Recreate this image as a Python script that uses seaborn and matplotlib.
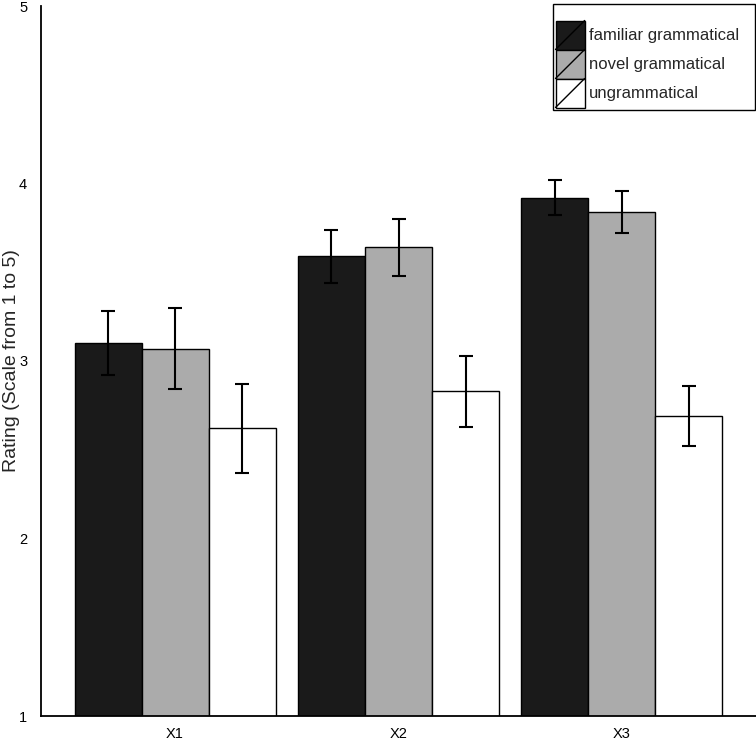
import numpy as np
import pandas as pd
import matplotlib
matplotlib.use('Agg')
import matplotlib.pyplot as plt
import seaborn as sns
from matplotlib.patches import Rectangle
from matplotlib.lines import Line2D
from matplotlib.legend_handler import HandlerPatch

# values
groups = ['X1', 'X2', 'X3']
conditions = ['familiar grammatical', 'novel grammatical', 'ungrammatical']
familiar = [3.10, 3.59, 3.92]
novel = [3.07, 3.64, 3.84]
ungrammatical = [2.62, 2.83, 2.69]
familiar_err = [0.18, 0.15, 0.10]
novel_err = [0.23, 0.16, 0.12]
ungrammatical_err = [0.25, 0.20, 0.17]
colors = ['#1a1a1a', '#ababab', '#ffffff']

df = pd.DataFrame({
    'group': groups * 3,
    'condition': np.repeat(conditions, len(groups)),
    'rating': familiar + novel + ungrammatical,
})
errs = [familiar_err, novel_err, ungrammatical_err]

sns.set_theme(style='white')
plt.rcParams['font.family'] = ['Liberation Sans', 'DejaVu Sans']

fig = plt.figure(figsize=(7.56, 7.41), dpi=100)
ax = fig.add_axes([41 / 756, 25 / 741, 715 / 756, 710 / 741])

sns.barplot(data=df, x='group', y='rating', hue='condition', palette=colors,
            width=0.9, edgecolor='black', linewidth=1, errorbar=None,
            saturation=1, ax=ax)

# error bars on each bar
for cont, err in zip(ax.containers, errs):
    xs = [b.get_x() + b.get_width() / 2 for b in cont]
    ys = [b.get_height() for b in cont]
    ax.errorbar(xs, ys, yerr=err, fmt='none', ecolor='black',
                elinewidth=1.5, capsize=5, capthick=1.5)

ax.set_ylim(1, 5)
ax.set_xlim(-0.6, 2.6)
ax.set_yticks([1, 2, 3, 4, 5])
ax.set_xlabel('')
ax.set_ylabel('Rating (Scale from 1 to 5)', fontsize=14)
ax.yaxis.set_label_coords(-0.029, 0.5)
ax.tick_params(axis='both', length=0, labelsize=10.5, colors='black')
ax.tick_params(axis='y', pad=10)
ax.tick_params(axis='x', pad=8)
sns.despine(ax=ax)
for s in ['left', 'bottom']:
    ax.spines[s].set_color('black')
    ax.spines[s].set_linewidth(1.3)


class DiagHandler(HandlerPatch):
    def create_artists(self, legend, orig_handle, xdescent, ydescent,
                       width, height, fontsize, trans):
        r = Rectangle((-xdescent, -ydescent), width, height,
                      facecolor=orig_handle.get_facecolor(), edgecolor='black',
                      lw=1, transform=trans)
        ln = Line2D([-xdescent, -xdescent + width], [-ydescent, -ydescent + height],
                    color='black', lw=1, transform=trans)
        return [r, ln]


ax.get_legend().remove()
handles = [Rectangle((0, 0), 1, 1, facecolor=c, edgecolor='black') for c in colors]
leg_h = 103 / 741
leg = fig.legend(handles, conditions, loc='upper left',
                 bbox_to_anchor=(553 / 756, 1 - 4 / 741 - leg_h, 202 / 756, leg_h),
                 mode='expand', borderaxespad=0,
                 handler_map={Rectangle: DiagHandler()},
                 fontsize=12, handlelength=1.75, handleheight=2.3,
                 labelspacing=0, handletextpad=0.25, borderpad=0.15,
                 frameon=True, fancybox=False, edgecolor='black',
                 title=' ', title_fontsize=10)
leg.get_frame().set_linewidth(1)
leg.get_frame().set_alpha(None)

fig.savefig('out.png', dpi=100)
